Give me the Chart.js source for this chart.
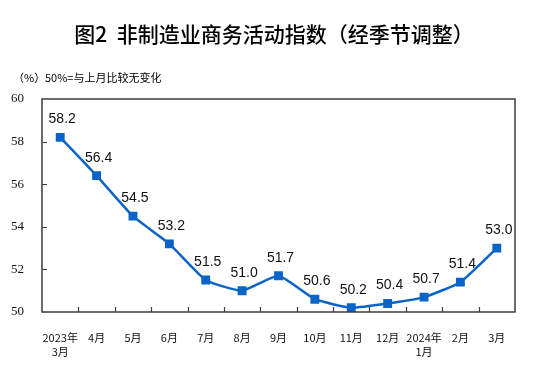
<!DOCTYPE html>
<html>
<head>
<meta charset="utf-8">
<script src="https://cdn.jsdelivr.net/npm/chart.js@4"></script>
<style>
  html, body { margin: 0; padding: 0; background: #fff; }
</style>
</head>
<body>
<canvas id="pmiChart" width="543" height="373"></canvas>
<script>
'use strict';

const months = [['2023年', '3月'], '4月', '5月', '6月', '7月', '8月', '9月', '10月', '11月', '12月', ['2024年', '1月'], '2月', '3月'];
const indexValues = [58.2, 56.4, 54.5, 53.2, 51.5, 51.0, 51.7, 50.6, 50.2, 50.4, 50.7, 51.4, 53.0];
const yMin = 50;
const yMax = 60;
const yStep = 2;

const titleText = '图2  非制造业商务活动指数（经季节调整）';
const unitText = '（%）';
const noteText = '50%=与上月比较无变化';

const lineColor = '#0a64c8';
const frameColor = '#3c3c3c';
const cjkFont = '"Noto Sans CJK SC", "Liberation Sans", sans-serif';

// frame, inward ticks, value labels and the header texts
const decorations = {
  id: 'decorations',
  afterDatasetsDraw(chart) {
    const ctx = chart.ctx;
    const area = chart.chartArea;
    const x = chart.scales.x;
    const y = chart.scales.y;

    ctx.save();
    ctx.strokeStyle = frameColor;
    ctx.lineWidth = 1.5;
    ctx.strokeRect(area.left, area.top, area.right - area.left, area.bottom - area.top);

    ctx.lineWidth = 1.2;
    ctx.beginPath();
    for (let i = 1; i < months.length; i++) {
      let px = Math.round((x.getPixelForValue(i - 1) + x.getPixelForValue(i)) / 2) + 0.5;
      ctx.moveTo(px, area.bottom);
      ctx.lineTo(px, area.bottom - 5);
    }
    for (let v = yMin + yStep; v < yMax; v += yStep) {
      let py = Math.round(y.getPixelForValue(v)) + 0.5;
      ctx.moveTo(area.left, py);
      ctx.lineTo(area.left + 5, py);
    }
    ctx.stroke();

    const meta = chart.getDatasetMeta(0);
    ctx.fillStyle = '#111';
    ctx.font = '14px "Liberation Sans", Arial, sans-serif';
    ctx.textAlign = 'center';
    ctx.textBaseline = 'middle';
    meta.data.forEach(function (pt, i) {
      ctx.fillText(indexValues[i].toFixed(1), pt.x + 2, pt.y - 18);
    });

    ctx.font = '500 21px ' + cjkFont;
    ctx.fillStyle = '#000';
    ctx.fillText(titleText, 274, 34);

    ctx.font = '11px ' + cjkFont;
    ctx.textAlign = 'left';
    ctx.fillText(unitText, 13, 78);
    ctx.fillText(noteText, 45, 78);
    ctx.restore();
  },
};

new Chart(document.getElementById('pmiChart'), {
  type: 'line',
  data: {
    labels: months,
    datasets: [{
      data: indexValues,
      borderColor: lineColor,
      backgroundColor: lineColor,
      borderWidth: 2.5,
      tension: 0.15,
      pointStyle: 'rect',
      pointRadius: 4.5,
      pointHoverRadius: 4.5,
      fill: false,
    }],
  },
  options: {
    responsive: false,
    animation: false,
    devicePixelRatio: 1,
    layout: {
      padding: {top: 99, right: 28, left: 0, bottom: 0},
    },
    plugins: {
      legend:  {display: false},
      title:   {display: false},
      tooltip: {enabled: false},
    },
    scales: {
      x: {
        offset: true,
        grid:   {display: false},
        border: {display: false},
        ticks:  {
          color:       '#111',
          padding:     10,
          maxRotation: 0,
          autoSkip:    false,
          font:        {family: cjkFont, size: 11, lineHeight: 1.35},
        },
        afterFit: function (scale) { scale.height = 61; },
      },
      y: {
        min:    yMin,
        max:    yMax,
        grid:   {display: false},
        border: {display: false},
        ticks:  {
          stepSize: yStep,
          color:    '#111',
          padding:  10,
          font:     {family: '"Liberation Serif", "Times New Roman", serif', size: 13},
        },
        afterFit: function (scale) { scale.width = 42; },
      },
    },
  },
  plugins: [decorations],
});
</script>
</body>
</html>
